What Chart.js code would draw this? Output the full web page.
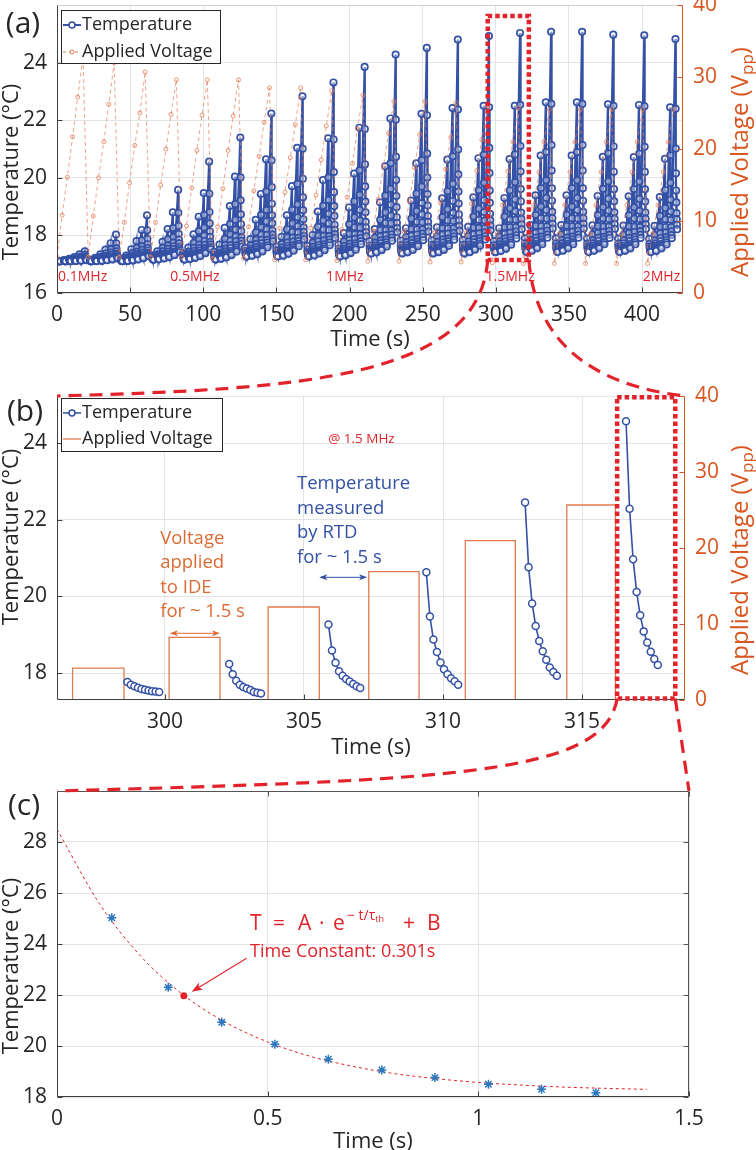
<!DOCTYPE html>
<html>
<head>
<meta charset="utf-8">
<title>Temperature response of the IDE heater</title>
<script src="https://cdn.jsdelivr.net/npm/chart.js@4.4.1/dist/chart.umd.min.js"></script>
<style>
  html, body { margin: 0; padding: 0; background: #fff; }
  #page { position: relative; width: 756px; height: 1150px; overflow: hidden; }
  .panel { position: absolute; left: 0; width: 756px; }
  #overlay { position: absolute; left: 0; top: 0; pointer-events: none; }
</style>
</head>
<body>
<div id="page">
  <div class="panel" style="top:-20px;height:385px"><canvas id="chartA" width="756" height="385"></canvas></div>
  <div class="panel" style="top:365px;height:395px"><canvas id="chartB" width="756" height="395"></canvas></div>
  <div class="panel" style="top:760px;height:390px"><canvas id="chartC" width="756" height="390"></canvas></div>
  <canvas id="overlay" width="756" height="1150"></canvas>
</div>
<script>
// ---------- panel (a): whole sweep, 0.1 MHz .. 2 MHz, 20 cycles of 6 pulses ----------
const aCycleStart = [1.1, 22.4, 43.6, 64.9, 86.1, 107.4, 128.6, 149.9, 171.1, 192.4,
                     213.6, 234.9, 256.1, 277.4, 298.65, 319.9, 341.1, 362.4, 383.6, 404.9];
const aPulseCenter = [-1.05, 2.42, 5.98, 9.59, 13.05, 16.68];   // s, from cycle start
const aDecayOffset = [0, 3.66, 7.23, 10.75, 14.30, 17.93];      // s, from cycle start
const aAmbient = [17.10, 17.10, 17.10, 17.15, 17.15, 17.15, 17.25, 17.25, 17.25, 17.25,
                  17.35, 17.35, 17.35, 17.35, 17.40, 17.40, 17.40, 17.40, 17.40, 17.40];
const aPeakTemp = [
  [17.12, 17.14, 17.19, 17.25, 17.34, 17.45],
  [17.16, 17.22, 17.34, 17.51, 17.73, 18.03],
  [17.20, 17.30, 17.52, 17.80, 18.19, 18.70],
  [17.31, 17.45, 17.78, 18.22, 18.80, 19.58],
  [17.37, 17.58, 18.04, 18.65, 19.47, 20.56],
  [17.43, 17.68, 18.26, 19.02, 20.04, 21.40],
  [17.57, 17.87, 18.54, 19.44, 20.64, 22.23],
  [17.61, 17.95, 18.70, 19.71, 21.04, 22.83],
  [17.64, 18.01, 18.83, 19.92, 21.37, 23.31],
  [17.68, 18.08, 18.97, 20.15, 21.74, 23.85],
  [17.80, 18.22, 19.15, 20.40, 22.06, 24.28],
  [17.82, 18.25, 19.21, 20.50, 22.22, 24.51],
  [17.83, 18.28, 19.29, 20.63, 22.42, 24.80],
  [17.84, 18.30, 19.32, 20.68, 22.50, 24.92],
  [17.80, 18.25, 19.30, 20.65, 22.50, 25.03],
  [17.90, 18.36, 19.39, 20.77, 22.62, 25.07],
  [17.90, 18.36, 19.39, 20.77, 22.62, 25.07],
  [17.89, 18.35, 19.37, 20.73, 22.55, 24.97],
  [17.89, 18.34, 19.36, 20.72, 22.53, 24.95],
  [17.88, 18.33, 19.33, 20.66, 22.45, 24.82]
];
const aVoltage = [
  [5.0, 10.8, 16.1, 21.7, 27.2, 32.8],
  [5.0, 10.7, 16.0, 21.0, 26.2, 32.0],
  [5.0, 9.8, 15.3, 20.5, 25.0, 30.7],
  [5.0, 9.8, 15.0, 20.0, 24.8, 29.6],
  [5.0, 9.3, 14.6, 19.8, 24.7, 29.6],
  [4.8, 9.2, 14.5, 19.8, 24.6, 29.6],
  [4.8, 9.2, 14.2, 19.0, 23.7, 28.5],
  [4.6, 9.0, 14.0, 18.8, 23.4, 28.5],
  [4.6, 9.0, 13.6, 18.5, 23.2, 28.1],
  [4.5, 8.8, 13.3, 18.0, 22.8, 27.5],
  [4.4, 8.6, 13.0, 17.6, 22.2, 26.6],
  [4.4, 8.5, 12.8, 17.4, 22.0, 26.6],
  [4.3, 8.4, 12.6, 17.2, 21.6, 26.4],
  [4.3, 8.3, 12.4, 17.0, 21.3, 26.0],
  [4.2, 8.25, 12.2, 16.9, 21.0, 25.7],
  [4.1, 8.2, 12.2, 16.8, 21.0, 25.5],
  [4.1, 8.2, 12.2, 16.8, 21.0, 25.5],
  [4.1, 8.2, 12.2, 16.8, 21.0, 25.5],
  [4.1, 8.2, 12.2, 16.8, 21.0, 25.5],
  [4.1, 8.2, 12.2, 16.8, 21.0, 25.5]
];
// share of the rise still left at each RTD sample after a pulse
const decayShape = [1, 0.65, 0.45, 0.326, 0.24, 0.18, 0.126, 0.095, 0.068, 0.045];
const sampleStep = 0.127;
const aFreqLabels = ['0.1MHz', '0.5MHz', '1MHz', '1.5MHz', '2MHz'];
const aFreqLabelAt = [0.7, 77.5, 184, 293, 400.5];
const aZoomBox = [294.5, 322.6, 17.15, 25.62];   // t0, t1, T0, T1
const aXTicks = [0, 50, 100, 150, 200, 250, 300, 350, 400];
const aYTicks = [16, 18, 20, 22, 24];
const aY2Ticks = [0, 10, 20, 30, 40];

// ---------- panel (b): the 1.5 MHz cycle ----------
const bPulseStart = [296.68, 300.15, 303.71, 307.33, 310.80, 314.45];
const bPulseEnd   = [298.53, 301.98, 305.55, 309.14, 312.60, 316.20];
const bPulseVolt  = [4.2, 8.25, 12.24, 16.9, 20.96, 25.66];
const bDecayStart = [298.65, 302.31, 305.88, 309.40, 312.95, 316.58];
const bDecayTemp = [
  [17.77, 17.70, 17.66, 17.62, 17.59, 17.57, 17.55, 17.53, 17.52, 17.51],
  [18.24, 17.97, 17.80, 17.70, 17.64, 17.60, 17.56, 17.51, 17.49, 17.47],
  [19.27, 18.59, 18.27, 18.05, 17.93, 17.85, 17.78, 17.72, 17.66, 17.61],
  [20.63, 19.48, 18.88, 18.55, 18.28, 18.10, 17.97, 17.87, 17.79, 17.70],
  [22.45, 20.76, 19.82, 19.23, 18.84, 18.57, 18.35, 18.15, 18.03, 17.93],
  [24.57, 22.29, 20.97, 20.12, 19.51, 19.09, 18.80, 18.56, 18.37, 18.21]
];
const bZoomBox = [316.26, 318.35, 17.34, 25.2];
const bXTicks = [300, 305, 310, 315];
const bYTicks = [18, 20, 22, 24];
const bY2Ticks = [0, 10, 20, 30, 40];

// ---------- panel (c): last decay and exponential fit ----------
const cTime = [0.130, 0.264, 0.391, 0.517, 0.644, 0.771, 0.897, 1.024, 1.150, 1.279];
const cTemp = [25.03, 22.30, 20.93, 20.07, 19.48, 19.06, 18.76, 18.50, 18.30, 18.17];
const cFitTime = [0, 0.1, 0.2, 0.3, 0.4, 0.5, 0.6, 0.7, 0.8, 0.9, 1.0, 1.1, 1.2, 1.3, 1.4];
const cFitTemp = [28.5, 25.6, 23.5, 22.0, 20.93, 20.16, 19.6, 19.21, 18.92, 18.72, 18.57, 18.47, 18.39, 18.34, 18.30];
const cTau = [0.301, 21.97];
const cXTicks = [0, 0.5, 1, 1.5];
const cYTicks = [18, 20, 22, 24, 26, 28];

// ---------- styles ----------
const FONT = "'Open Sans', 'Noto Sans', sans-serif";
const BLUE = '#3451A5';
const ORANGE = '#D9541E';
const ORANGE_TXT = '#DC6A35';
const ORANGE_LINE = '#E07A50';
const RED = '#E2232B';
const GRID = '#E4E4E4';
const AXIS = '#404040';
const INK = '#262626';
const panelTop = [-20, 365, 760];

Chart.defaults.font.family = FONT;
Chart.defaults.color = INK;

// ---------- build series ----------
const aTempPoints = [];
const aVoltPoints = [];
aCycleStart.forEach((start, i) => {
  let floor = aAmbient[i];
  aPeakTemp[i].forEach((peak, j) => {
    decayShape.forEach((f, k) => {
      aTempPoints.push({ x: start + aDecayOffset[j] + k * sampleStep, y: floor + (peak - floor) * f });
    });
    floor = floor + (peak - floor) * decayShape[decayShape.length - 1];
  });
  aVoltage[i].forEach((v, j) => aVoltPoints.push({ x: start + aPulseCenter[j], y: v }));
});

const bTempPoints = [];
bDecayStart.forEach((s, j) => {
  bDecayTemp[j].forEach((T, k) => bTempPoints.push({ x: s + k * sampleStep, y: T }));
  bTempPoints.push({ x: s + 1.3, y: null });
});
const bVoltPoints = [];
bPulseStart.forEach((s, j) => {
  const e = bPulseEnd[j], v = bPulseVolt[j];
  bVoltPoints.push({ x: s, y: 0 }, { x: s, y: v }, { x: e, y: v }, { x: e, y: 0 }, { x: e, y: null });
});

// ---------- helpers ----------
function seg(ctx, x1, y1, x2, y2, color, w) {
  ctx.beginPath();
  ctx.strokeStyle = color;
  ctx.lineWidth = w || 1;
  ctx.moveTo(x1, y1);
  ctx.lineTo(x2, y2);
  ctx.stroke();
}

function label(ctx, s, x, y, size, color, o) {
  o = o || {};
  ctx.save();
  ctx.font = size + 'px ' + FONT;
  ctx.fillStyle = color;
  ctx.textAlign = o.align || 'left';
  ctx.textBaseline = o.baseline || 'middle';
  ctx.translate(x, y);
  if (o.rot) ctx.rotate(o.rot);
  ctx.fillText(s, 0, 0);
  ctx.restore();
  ctx.font = size + 'px ' + FONT;
  return ctx.measureText(s).width;
}

function drawFrame(chart, topColor, rightColor, rightScale, topTicks) {
  const ctx = chart.ctx, a = chart.chartArea;
  const L = Math.round(a.left) + 0.5, R = Math.round(a.right) - 0.5;
  const T = Math.round(a.top) + 0.5, B = Math.round(a.bottom) - 0.5;
  const tl = 5;
  ctx.save();
  seg(ctx, L, T, R, T, topColor);
  seg(ctx, L, B, R, B, AXIS);
  seg(ctx, L, T, L, B, AXIS);
  seg(ctx, R, T, R, B, rightColor);
  chart.scales.x.ticks.forEach(t => {
    const p = Math.round(chart.scales.x.getPixelForValue(t.value)) + 0.5;
    seg(ctx, p, B, p, B - tl, AXIS);
    if (topTicks) seg(ctx, p, T, p, T + tl, topColor);
  });
  chart.scales.y.ticks.forEach(t => {
    const p = Math.round(chart.scales.y.getPixelForValue(t.value)) + 0.5;
    seg(ctx, L, p, L + tl, p, AXIS);
  });
  const rs = chart.scales[rightScale];
  rs.ticks.forEach(t => {
    const p = Math.round(rs.getPixelForValue(t.value)) + 0.5;
    seg(ctx, R, p, R - tl, p, rightColor);
  });
  ctx.restore();
}

function voltTitle(ctx, cx, cy, size) {
  ctx.save();
  ctx.translate(cx, cy);
  ctx.rotate(-Math.PI / 2);
  ctx.fillStyle = ORANGE;
  ctx.textBaseline = 'alphabetic';
  ctx.textAlign = 'left';
  const f1 = size + 'px ' + FONT, f2 = Math.round(size * 0.72) + 'px ' + FONT;
  ctx.font = f1;
  const w1 = ctx.measureText('Applied Voltage (V').width, w3 = ctx.measureText(')').width;
  ctx.font = f2;
  const w2 = ctx.measureText('pp').width;
  let x = -(w1 + w2 + w3) / 2;
  const base = size * 0.35;
  ctx.font = f1; ctx.fillText('Applied Voltage (V', x, base); x += w1;
  ctx.font = f2; ctx.fillText('pp', x, base + size * 0.2); x += w2;
  ctx.font = f1; ctx.fillText(')', x, base);
  ctx.restore();
}

function drawLegend(ctx, x, y, w, h, rows) {
  ctx.save();
  ctx.fillStyle = '#fff';
  ctx.fillRect(x, y, w, h);
  ctx.strokeStyle = INK;
  ctx.lineWidth = 1;
  ctx.strokeRect(x + 0.5, y + 0.5, w, h);
  rows.forEach(r => {
    r.sample(ctx, x + 2, x + 20, y + r.dy);
    label(ctx, r.text, x + 21, y + r.dy, 18, INK);
  });
  ctx.restore();
}

function marker(ctx, cx, cy, r, color, lw) {
  ctx.beginPath();
  ctx.arc(cx, cy, r, 0, Math.PI * 2);
  ctx.fillStyle = '#fff';
  ctx.fill();
  ctx.lineWidth = lw;
  ctx.strokeStyle = color;
  ctx.stroke();
}

function head(ctx, x, y, ang, len, half, color) {
  ctx.save();
  ctx.translate(x, y);
  ctx.rotate(ang);
  ctx.beginPath();
  ctx.moveTo(0, 0);
  ctx.lineTo(-len, -half);
  ctx.lineTo(-len * 0.75, 0);
  ctx.lineTo(-len, half);
  ctx.closePath();
  ctx.fillStyle = color;
  ctx.fill();
  ctx.restore();
}

function dblArrow(ctx, x1, x2, y, color) {
  ctx.save();
  seg(ctx, x1 + 3, y, x2 - 3, y, color, 1);
  head(ctx, x1, y, Math.PI, 8, 3, color);
  head(ctx, x2, y, 0, 8, 3, color);
  ctx.restore();
}

function xAxis(min, max, ticks, height) {
  return {
    type: 'linear', min: min, max: max,
    afterBuildTicks: s => { s.ticks = ticks.map(v => ({ value: v })); },
    afterFit: s => { s.height = height; },
    grid: { color: GRID, drawTicks: false },
    border: { display: false },
    ticks: { padding: 9, maxRotation: 0, autoSkip: false, font: { size: 21 }, color: INK, callback: v => String(v) }
  };
}

function yAxis(min, max, ticks, width, pos, color, showGrid) {
  return {
    type: 'linear', position: pos, min: min, max: max,
    afterBuildTicks: s => { s.ticks = ticks.map(v => ({ value: v })); },
    afterFit: s => { s.width = width; },
    grid: { display: showGrid, color: GRID, drawTicks: false },
    border: { display: false },
    ticks: { padding: 10, autoSkip: false, font: { size: 21 }, color: color, callback: v => String(v) }
  };
}

// ---------- panel (a) ----------
const decorA = {
  id: 'decorA',
  afterDraw(chart) {
    const ctx = chart.ctx, a = chart.chartArea, xs = chart.scales.x, ys = chart.scales.y;
    drawFrame(chart, '#D0D0D0', ORANGE, 'y2', false);
    aFreqLabels.forEach((s, i) => label(ctx, s, xs.getPixelForValue(aFreqLabelAt[i]), ys.getPixelForValue(16.56), 14, RED));
    const ds = chart.data.datasets;
    drawLegend(ctx, a.left + 4, a.top + 5, 159, 53, [
      { text: ds[1].label, dy: 15, sample: (c, x1, x2, y) => { seg(c, x1, y, x2, y, BLUE, 2); marker(c, (x1 + x2) / 2, y, 3, BLUE, 1.5); } },
      { text: ds[0].label, dy: 42, sample: (c, x1, x2, y) => {
          c.save(); c.setLineDash([3, 3]); seg(c, x1, y, x2, y, ORANGE_LINE, 1); c.restore();
          marker(c, (x1 + x2) / 2, y, 2, ORANGE_LINE, 1); } }
    ]);
    label(ctx, '(a)', a.left - 34, a.top + 19, 30, INK, { align: 'center' });
    label(ctx, 'Temperature (°C)', 12, a.top + 167, 22, INK, { align: 'center', rot: -Math.PI / 2 });
    label(ctx, 'Time (s)', (a.left + a.right) / 2, a.bottom + 47, 22, INK, { align: 'center' });
    voltTitle(ctx, 740, a.top + 157, 24);
  }
};

const chartA = new Chart(document.getElementById('chartA'), {
  type: 'line',
  data: {
    datasets: [
      { label: 'Applied Voltage', data: aVoltPoints, yAxisID: 'y2', order: 0,
        borderColor: 'rgba(228,128,92,0.7)', borderWidth: 1, borderDash: [4, 3],
        pointRadius: 2, pointBorderWidth: 1, pointBorderColor: 'rgba(228,128,92,0.8)', pointBackgroundColor: 'rgba(255,255,255,0)' },
      { label: 'Temperature', data: aTempPoints, yAxisID: 'y', order: 1,
        borderColor: BLUE, borderWidth: 2.2, pointRadius: 3.2, pointBorderWidth: 1.7,
        pointBorderColor: BLUE, pointBackgroundColor: 'rgba(255,255,255,0.4)' }
    ]
  },
  options: {
    responsive: false, animation: false, events: [],
    layout: { padding: { top: 25, left: 0, right: 0, bottom: 0 } },
    plugins: { legend: { display: false }, tooltip: { enabled: false } },
    scales: {
      x: xAxis(0, 428, aXTicks, 72),
      y: yAxis(16, 26, aYTicks, 57, 'left', INK, true),
      y2: yAxis(0, 40, aY2Ticks, 73, 'right', ORANGE, false)
    }
  },
  plugins: [decorA]
});

// ---------- panel (b) ----------
const decorB = {
  id: 'decorB',
  afterDraw(chart) {
    const ctx = chart.ctx, a = chart.chartArea, xs = chart.scales.x, ys = chart.scales.y;
    drawFrame(chart, '#E6E6E6', ORANGE, 'y2', false);
    const ds = chart.data.datasets;
    drawLegend(ctx, a.left + 4, a.top + 2, 161, 53, [
      { text: ds[1].label, dy: 15, sample: (c, x1, x2, y) => { seg(c, x1, y, x2, y, BLUE, 1.5); marker(c, (x1 + x2) / 2, y, 3, BLUE, 1.5); } },
      { text: ds[0].label, dy: 41, sample: (c, x1, x2, y) => { seg(c, x1, y, x2, y, ORANGE_LINE, 1.3); } }
    ]);
    label(ctx, '@ 1.5 MHz', xs.getPixelForValue(305.87), ys.getPixelForValue(24.10), 13.5, RED);
    const ox = xs.getPixelForValue(299.83), oy = ys.getPixelForValue(21.51);
    ['Voltage', 'applied', 'to IDE', 'for ~ 1.5 s'].forEach((s, i) => label(ctx, s, ox, oy + i * 24.4, 18.5, ORANGE_TXT));
    const bx = xs.getPixelForValue(304.75), by = ys.getPixelForValue(22.93);
    ['Temperature', 'measured', 'by RTD', 'for ~ 1.5 s'].forEach((s, i) => label(ctx, s, bx, by + i * 24.4, 18.5, BLUE));
    dblArrow(ctx, xs.getPixelForValue(300.18), xs.getPixelForValue(301.98), ys.getPixelForValue(19.04), ORANGE_TXT);
    dblArrow(ctx, xs.getPixelForValue(305.55), xs.getPixelForValue(307.27), ys.getPixelForValue(20.5), BLUE);
    label(ctx, '(b)', a.left - 32, a.top + 16, 30, INK, { align: 'center' });
    label(ctx, 'Temperature (°C)', 12, a.top + 141, 22, INK, { align: 'center', rot: -Math.PI / 2 });
    label(ctx, 'Time (s)', (a.left + a.right) / 2, a.bottom + 48, 22, INK, { align: 'center' });
    voltTitle(ctx, 740, a.top + 164, 24);
  }
};

const chartB = new Chart(document.getElementById('chartB'), {
  type: 'line',
  data: {
    datasets: [
      { label: 'Applied Voltage', data: bVoltPoints, yAxisID: 'y2', order: 1,
        borderColor: ORANGE_LINE, borderWidth: 1.3, pointRadius: 0, spanGaps: false },
      { label: 'Temperature', data: bTempPoints, yAxisID: 'y', order: 0,
        borderColor: BLUE, borderWidth: 1.6, pointRadius: 3.5, pointBorderWidth: 1.5,
        pointBorderColor: BLUE, pointBackgroundColor: '#fff', spanGaps: false }
    ]
  },
  options: {
    responsive: false, animation: false, events: [],
    layout: { padding: { top: 31, left: 0, right: 0, bottom: 0 } },
    plugins: { legend: { display: false }, tooltip: { enabled: false } },
    scales: {
      x: xAxis(296.12, 318.7, bXTicks, 60),
      y: yAxis(17.30, 25.23, bYTicks, 57, 'left', INK, true),
      y2: yAxis(0, 40, bY2Ticks, 71, 'right', ORANGE, false)
    }
  },
  plugins: [decorB]
});

// ---------- panel (c) ----------
const decorC = {
  id: 'decorC',
  afterDraw(chart) {
    const ctx = chart.ctx, a = chart.chartArea, xs = chart.scales.x, ys = chart.scales.y;
    drawFrame(chart, '#555', '#555', 'y', true);
    // fit equation
    const x0 = xs.getPixelForValue(0.458), yb = ys.getPixelForValue(24.55);
    const big = { baseline: 'alphabetic' };
    label(ctx, 'T', x0, yb, 21, RED, big);
    label(ctx, '=', x0 + 23, yb, 21, RED, big);
    label(ctx, 'A', x0 + 48, yb, 21, RED, big);
    label(ctx, '·', x0 + 69, yb, 21, RED, big);
    label(ctx, 'e', x0 + 83, yb, 21, RED, big);
    const w = label(ctx, '− t/τ', x0 + 97, yb - 10, 14, RED, big);
    label(ctx, 'th', x0 + 97 + w, yb - 8, 9, RED, big);
    label(ctx, '+', x0 + 153, yb, 21, RED, big);
    label(ctx, 'B', x0 + 177, yb, 21, RED, big);
    label(ctx, 'Time Constant: 0.301s', x0, yb + 22, 18, RED);
    // pointer to the time-constant point
    const tx = xs.getPixelForValue(0.450), ty = ys.getPixelForValue(23.44);
    const hx = xs.getPixelForValue(0.3197), hy = ys.getPixelForValue(22.13);
    seg(ctx, tx, ty, hx + (tx - hx) * 0.12, hy + (ty - hy) * 0.12, RED, 1.1);
    head(ctx, hx, hy, Math.atan2(hy - ty, hx - tx), 11, 4, RED);
    label(ctx, '(c)', a.left - 33, a.top + 15, 30, INK, { align: 'center' });
    label(ctx, 'Temperature (°C)', 12, a.top + 175, 22, INK, { align: 'center', rot: -Math.PI / 2 });
    label(ctx, 'Time (s)', (a.left + a.right) / 2, a.bottom + 45, 22, INK, { align: 'center' });
  }
};

const chartC = new Chart(document.getElementById('chartC'), {
  type: 'line',
  data: {
    datasets: [
      { label: 'Fit', data: cFitTime.map((t, i) => ({ x: t, y: cFitTemp[i] })), order: 2,
        borderColor: RED, borderWidth: 1, borderDash: [3, 3], pointRadius: 0, cubicInterpolationMode: 'monotone' },
      { label: 'Measured', data: cTime.map((t, i) => ({ x: t, y: cTemp[i] })), order: 1, showLine: false,
        pointStyle: 'star', pointRadius: 4.5, pointBorderWidth: 1.5, pointBorderColor: '#2B78BE', pointBackgroundColor: '#2B78BE' },
      { label: 'Time constant', data: [{ x: cTau[0], y: cTau[1] }], order: 0, showLine: false,
        pointRadius: 3.5, pointBorderWidth: 0, pointBackgroundColor: RED }
    ]
  },
  options: {
    responsive: false, animation: false, events: [],
    layout: { padding: { top: 31, left: 0, right: 67, bottom: 0 } },
    plugins: { legend: { display: false }, tooltip: { enabled: false } },
    scales: {
      x: xAxis(0, 1.5, cXTicks, 53),
      y: yAxis(18, 30, cYTicks, 57, 'left', INK, true)
    }
  },
  plugins: [decorC]
});

// ---------- zoom boxes and connectors across panels ----------
function boxPx(chart, box, top) {
  const xs = chart.scales.x, ys = chart.scales.y;
  return {
    l: xs.getPixelForValue(box[0]), r: xs.getPixelForValue(box[1]),
    b: ys.getPixelForValue(box[2]) + top, t: ys.getPixelForValue(box[3]) + top
  };
}

(function drawOverlay() {
  const ov = document.getElementById('overlay').getContext('2d');
  const A = boxPx(chartA, aZoomBox, panelTop[0]);
  const B = boxPx(chartB, bZoomBox, panelTop[1]);
  const caB = chartB.chartArea, caC = chartC.chartArea;
  const bL = caB.left, bR = caB.right, bT = caB.top + panelTop[1];
  const cL = caC.left, cR = caC.right, cT = caC.top + panelTop[2];

  ov.save();
  ov.strokeStyle = RED;
  ov.lineWidth = 4.5;
  ov.setLineDash([4.5, 3]);
  ov.strokeRect(A.l, A.t, A.r - A.l, A.b - A.t);
  ov.strokeRect(B.l, B.t, B.r - B.l, B.b - B.t);

  ov.lineWidth = 3.2;
  ov.setLineDash([13, 8]);
  ov.beginPath();
  ov.moveTo(A.l, A.b);
  ov.bezierCurveTo(A.l - 9, bT - 17, bL + 243, bT - 7, bL, bT);
  ov.stroke();
  ov.beginPath();
  ov.moveTo(A.r, A.b);
  ov.bezierCurveTo(A.r + 6, bT - 56, bR - 95, bT - 11, bR, bT);
  ov.stroke();
  ov.beginPath();
  ov.moveTo(B.l, B.b);
  ov.bezierCurveTo(B.l - 12, cT - 16, cL + 393, cT - 11, cL, cT);
  ov.stroke();
  ov.beginPath();
  ov.moveTo(B.r, B.b);
  ov.lineTo(cR, cT);
  ov.stroke();
  ov.restore();
})();
</script>
</body>
</html>
